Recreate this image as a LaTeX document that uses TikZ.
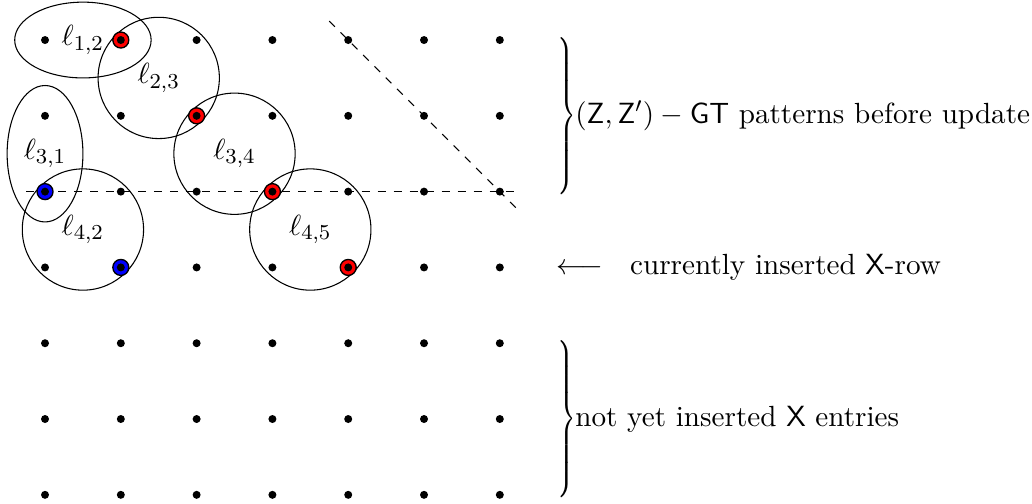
\documentclass[11pt,tikz,border=0pt]{standalone}
\usepackage{amsmath}
\usepackage{graphicx}
\usepackage{tikz}
\usetikzlibrary{shapes.geometric}
\newcommand{\tallbrace}{\scalebox{0.72}[1]{$\left.\vcenter{\hbox{\rule{0pt}{22mm}}}\right\}$}}

\begin{document}
\begin{tikzpicture}[dot/.style={circle, fill=black, inner sep=0pt, minimum size=3pt}, hit/.style={circle, draw=black, line width=0.5pt, fill=#1, inner sep=0pt, minimum size=6pt}, grp/.style={draw, inner sep=0pt}, side/.style={anchor=west, inner sep=0pt}]
\useasboundingbox (-0.594,-6.121) rectangle (13.021,0.528);
% GT patterns
\node[grp, ellipse, minimum width=18mm, minimum height=10mm] (l12) at (0.5,0) {$\ell_{1,2}$};
\node[grp, circle, minimum size=16mm] (l23) at (1.5,-0.5) {$\ell_{2,3}$};
\node[grp, ellipse, minimum width=10mm, minimum height=18mm] (l31) at (0,-1.5) {$\ell_{3,1}$};
\node[grp, circle, minimum size=16mm] (l34) at (2.5,-1.5) {$\ell_{3,4}$};
\node[grp, circle, minimum size=16mm] (l42) at (0.5,-2.5) {$\ell_{4,2}$};
\node[grp, circle, minimum size=16mm] (l45) at (3.5,-2.5) {$\ell_{4,5}$};
% dashed cuts
\coordinate (h1) at (-0.25,-2);
\coordinate (h2) at (6.2,-2);
\coordinate (g1) at (3.75,0.25);
\coordinate (g2) at (6.22,-2.22);
\draw[dashed] (h1) -- (h2);
\draw[dashed] (g1) -- (g2);
% marked entries
\node[hit=red] (r1) at (1,0) {};
\node[hit=red] (r2) at (2,-1) {};
\node[hit=red] (r3) at (3,-2) {};
\node[hit=red] (r4) at (4,-3) {};
\node[hit=blue] (b1) at (0,-2) {};
\node[hit=blue] (b2) at (1,-3) {};
% grid
\foreach \i in {0,...,6}
  \foreach \j in {0,...,6}
    \node[dot] (d\i\j) at (\i,-\j) {};
% right labels
\node[side] (br1) at (6.72,-1) {\tallbrace};
\node[side] (gt) at (6.99,-1) {$(\mathsf{Z},\mathsf{Z}')-\mathsf{GT}$ patterns before update};
\node[side] (cur) at (6.74,-3) {$\longleftarrow$\hspace{10pt}currently inserted $\mathsf{X}$-row};
\node[side] (br2) at (6.72,-5) {\tallbrace};
\node[side] (rest) at (6.99,-5) {not yet inserted $\mathsf{X}$ entries};
\end{tikzpicture}
\end{document}
